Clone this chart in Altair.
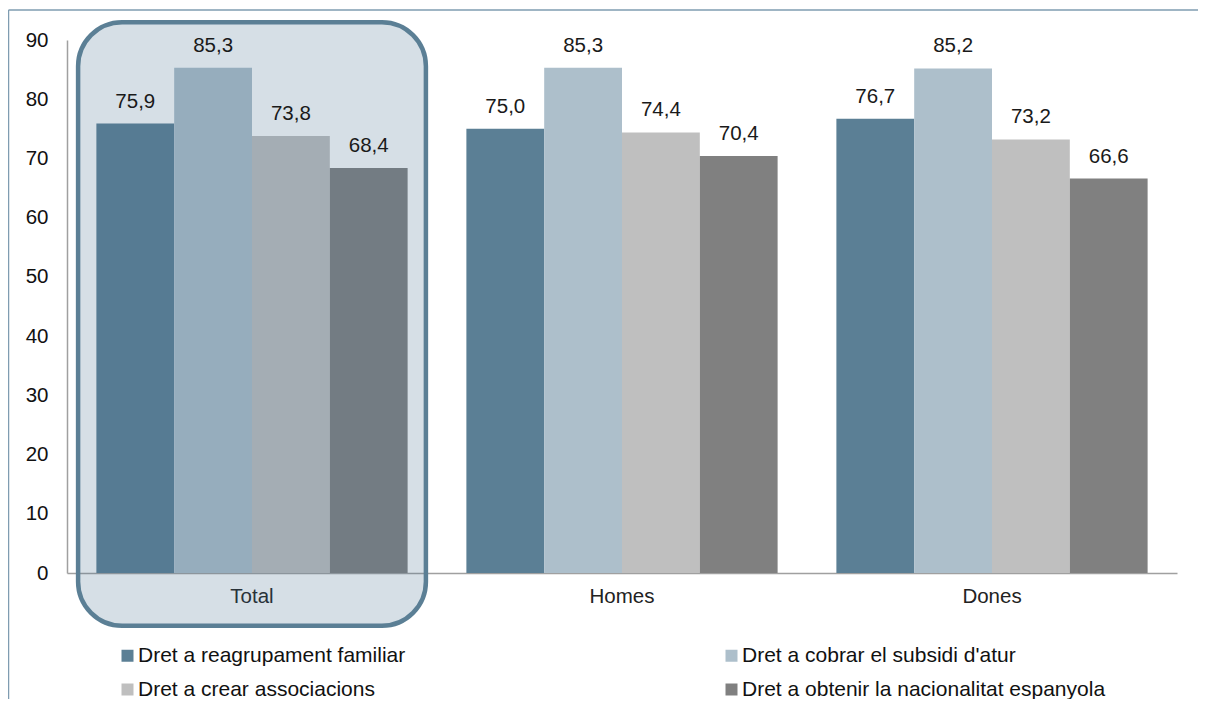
import altair as alt
import pandas as pd

groups = ["Total", "Homes", "Dones"]
series = [
    "Dret a reagrupament familiar",
    "Dret a cobrar el subsidi d'atur",
    "Dret a crear associacions",
    "Dret a obtenir la nacionalitat espanyola",
]
colors = ["#5B7F95", "#ADBFCB", "#BFBFBF", "#808080"]
values = {
    "Dret a reagrupament familiar": [75.9, 75.0, 76.7],
    "Dret a cobrar el subsidi d'atur": [85.3, 85.3, 85.2],
    "Dret a crear associacions": [73.8, 74.4, 73.2],
    "Dret a obtenir la nacionalitat espanyola": [68.4, 70.4, 66.6],
}
y_ticks = [0, 10, 20, 30, 40, 50, 60, 70, 80, 90]
highlight_group = ["Total"]
highlight_top = [93.0]
highlight_bottom = [-8.9]

rows = []
for s in series:
    for g, v in zip(groups, values[s]):
        rows.append({"group": g, "series": s, "value": v})
df = pd.DataFrame(rows)
hl = pd.DataFrame({"group": highlight_group, "top": highlight_top, "bottom": highlight_bottom})

FONT = "Liberation Sans"
FS = 20.5
W, H = 1110, 533

x_enc = alt.X(
    "group:N",
    sort=groups,
    scale=alt.Scale(paddingInner=0.06, paddingOuter=0.03),
    axis=alt.Axis(
        title=None, labelAngle=0, ticks=False, domainColor="#A0A0A0", domainWidth=1.5,
        labelFont=FONT, labelFontSize=FS, labelColor="#222222", labelPadding=13,
    ),
)
y_scale = alt.Scale(domain=[0, 90], nice=False)

base = alt.Chart(df)

bars = base.mark_bar(clip=False).encode(
    x=x_enc,
    xOffset=alt.XOffset("series:N", sort=series, scale=alt.Scale(paddingInner=0, paddingOuter=0.235)),
    y=alt.Y(
        "value:Q",
        scale=y_scale,
        axis=alt.Axis(
            title=None, values=y_ticks, ticks=False, grid=False, domainColor="#A0A0A0",
            domainWidth=1.5, labelFont=FONT, labelFontSize=FS, labelColor="#111111",
            labelPadding=19,
        ),
    ),
    color=alt.Color(
        "series:N",
        sort=series,
        scale=alt.Scale(domain=series, range=colors),
        legend=alt.Legend(
            title=None, orient="none", legendX=50, legendY=605, columns=2,
            columnPadding=315, rowPadding=12, symbolType="square", symbolSize=144,
            symbolStrokeWidth=0, labelFont=FONT, labelFontSize=21, labelColor="#111111",
            labelOffset=0, labelLimit=600, direction="horizontal",
        ),
    ),
)

highlight = alt.Chart(hl).mark_rect(
    cornerRadius=44, fill="#456E8D", fillOpacity=0.22, stroke="#5B7F95",
    strokeWidth=4.5, clip=False,
).encode(
    x=alt.X("group:N", sort=groups),
    y=alt.Y("top:Q", scale=y_scale),
    y2="bottom:Q",
)

labels = base.mark_text(
    baseline="alphabetic", dy=-16, font=FONT, fontSize=FS, color="#1a1a1a",
).transform_calculate(
    label="replace(format(datum.value, '.1f'), '.', ',')"
).encode(
    x=alt.X("group:N", sort=groups),
    xOffset=alt.XOffset("series:N", sort=series),
    y=alt.Y("value:Q", scale=y_scale),
    text="label:N",
)

frame_left = alt.Chart(hl).mark_rule(color="#7F9CB1", strokeWidth=1.5).encode(
    x=alt.value(-58.5), y=alt.value(-30), y2=alt.value(H + 140)
)
frame_top = alt.Chart(hl).mark_rule(color="#7F9CB1", strokeWidth=1.5).encode(
    x=alt.value(-58.5), x2=alt.value(W + 40), y=alt.value(-30)
)

chart = alt.layer(bars, highlight, labels, frame_left, frame_top).properties(
    width=W, height=H,
    autosize=alt.AutoSizeParams(type="none"),
    padding={"left": 59, "top": 32, "right": 21, "bottom": 126},
).configure_view(stroke=None).configure_scale(bandPaddingInner=0)

chart.save("out.html", embed_options={"renderer": "svg", "actions": False})
